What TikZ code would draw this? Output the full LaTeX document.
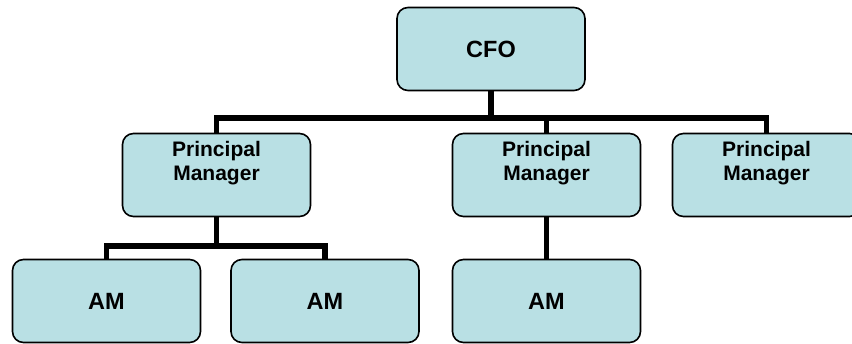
\documentclass[tikz,border=0pt]{standalone}
\usepackage{fontspec}
\setmainfont{Liberation Sans}
\definecolor{boxfill}{RGB}{185,224,228}
\begin{document}
\begin{tikzpicture}[x=1pt,y=-1pt,
  orgbox/.style={draw=black,line width=1.6pt,fill=boxfill,rounded corners=11pt,
    minimum width=188pt,minimum height=83pt,inner sep=0pt,
    font=\fontsize{23.5}{26}\selectfont\bfseries},
  pmtext/.style={align=center,inner sep=0pt,font=\fontsize{21}{24}\selectfont\bfseries},
  conn/.style={line width=5.5pt}]
\useasboundingbox (0,0) rectangle (852,343);
\clip (0,0) rectangle (852,343);
% boxes
\node[orgbox] (cfo) at (491,49) {CFO};
\node[orgbox] (pm1) at (216.5,175) {};
\node[orgbox] (pm2) at (546.5,175) {};
\node[orgbox] (pm3) at (766.5,175) {};
\node[pmtext] (t1) at (216.5,163) {Principal\\Manager};
\node[pmtext] (t2) at (546.5,163) {Principal\\Manager};
\node[pmtext] (t3) at (766.5,163) {Principal\\Manager};
\node[orgbox] (am1) at (106.5,301) {AM};
\node[orgbox] (am2) at (325,301) {AM};
\node[orgbox] (am3) at (546.5,301) {AM};
% connectors
\coordinate (bus1) at (491,118);
\coordinate (bus2) at (216.5,246);
\draw[conn] (cfo.south) -- (bus1);
\draw[conn] (pm1.north) |- (bus1) -| (pm3.north);
\draw[conn] (pm2.north) -- (pm2.north |- bus1);
\draw[conn] (pm1.south) -- (bus2);
\draw[conn] (am1.north) |- (bus2) -| (am2.north);
\draw[conn] (pm2.south) -- (am3.north);
\end{tikzpicture}
\end{document}
